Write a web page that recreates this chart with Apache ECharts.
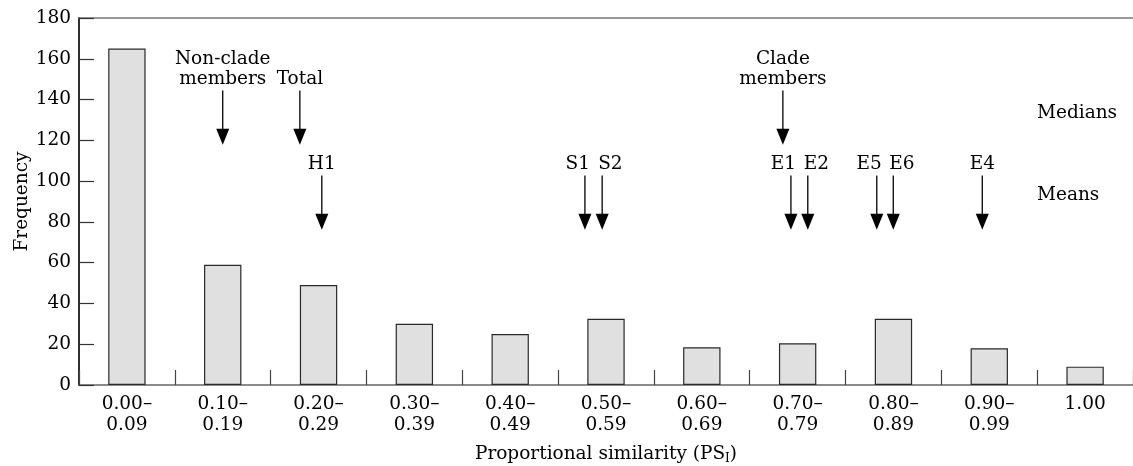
<!DOCTYPE html>
<html>
<head>
<meta charset="utf-8">
<script src="https://cdn.jsdelivr.net/npm/echarts@6/dist/echarts.min.js"></script>
<style>
  html, body { margin: 0; padding: 0; background: #fff; }
  #chart { width: 1133px; height: 466px; }
</style>
</head>
<body>
<div id="chart"></div>
<script>
// Categories of proportional similarity (PS_I)
var categories = ['0.00–\n0.09', '0.10–\n0.19', '0.20–\n0.29', '0.30–\n0.39', '0.40–\n0.49',
                  '0.50–\n0.59', '0.60–\n0.69', '0.70–\n0.79', '0.80–\n0.89', '0.90–\n0.99', '1.00'];
// Frequencies
var frequency = [165, 59, 49, 30, 25, 32.5, 18.5, 20.5, 32.5, 18, 9];
var yTicks = [0, 20, 40, 60, 80, 100, 120, 140, 160, 180];

// Medians (PS_I position on a continuous scale where each bin spans 0.1)
var medianNames = ['Non-clade\nmembers', 'Total', 'Clade\nmembers'];
var medianValues = [0.150, 0.2305, 0.7346];
// Means
var meanNames = ['H1', 'S1', 'S2', 'E1', 'E2', 'E5', 'E6', 'E4'];
var meanValues = [0.2534, 0.528, 0.546, 0.743, 0.7606, 0.8326, 0.8498, 0.9427];

// vertical extent of arrows (in frequency units)
var medianArrowTop = 144.5, medianArrowTip = 117.8;
var meanArrowTop = 102.8, meanArrowTip = 76.1;

var FONT = '"DejaVu Serif", "Liberation Serif", serif';
var FS = 18.5;

var arrowData = [];
medianValues.forEach(function (v, i) {
  arrowData.push([v, medianArrowTop, medianArrowTip, medianNames[i], 0]);
});
meanValues.forEach(function (v, i) {
  // side: -1 left member of a close pair, +1 right member, 0 alone
  var side = 0;
  if (i > 0 && Math.abs(meanValues[i - 1] - v) < 0.03) side = 1;
  if (i < meanValues.length - 1 && Math.abs(meanValues[i + 1] - v) < 0.03) side = -1;
  arrowData.push([v, meanArrowTop, meanArrowTip, meanNames[i], side]);
});

var chart = echarts.init(document.getElementById('chart'), null, { renderer: 'canvas' });
chart.setOption({
  backgroundColor: '#fff',
  animation: false,
  textStyle: { fontFamily: FONT },
  grid: { left: 79, right: 0, top: 18, bottom: 81, containLabel: false, outerBoundsMode: 'none' },
  xAxis: [{
    type: 'category',
    data: categories,
    position: 'bottom',
    boundaryGap: true,
    axisLine: { onZero: false, lineStyle: { color: '#666', width: 1.5 } },
    axisTick: { show: true, inside: true, length: 15, alignWithLabel: false, lineStyle: { color: '#444', width: 1.2 } },
    axisLabel: { color: '#000', fontSize: FS, fontFamily: FONT, margin: 9, lineHeight: 21, interval: 0 },
    name: 'Proportional similarity (PS{sub|I})',
    nameLocation: 'middle',
    nameGap: 58,
    nameMoveOverlap: false,
    nameTextStyle: {
      color: '#000', fontSize: FS, fontFamily: FONT,
      rich: { sub: { fontSize: 12, fontFamily: FONT, color: '#000', verticalAlign: 'bottom', padding: [10, 0, 0, 0] } }
    }
  }, {
    type: 'value',
    position: 'top',
    min: 0, max: 1.1,
    axisLine: { show: true, onZero: false, lineStyle: { color: '#777', width: 1.5 } },
    axisTick: { show: false },
    axisLabel: { show: false },
    splitLine: { show: false }
  }],
  yAxis: [{
    type: 'value',
    min: 0, max: 180, interval: 20,
    axisLine: { show: true, onZero: false, lineStyle: { color: '#222', width: 1.5 } },
    axisTick: { show: true, inside: true, length: 15, lineStyle: { color: '#333', width: 1.2 } },
    axisLabel: { color: '#000', fontSize: FS, fontFamily: FONT, margin: 8 },
    splitLine: { show: false },
    name: 'Frequency',
    nameLocation: 'middle',
    nameRotate: 90,
    nameGap: 47,
    nameMoveOverlap: false,
    nameTextStyle: { color: '#000', fontSize: FS, fontFamily: FONT }
  }, {
    type: 'value',
    position: 'left',
    min: 0, max: 180,
    axisLine: { show: true, onZero: false, lineStyle: { color: '#222', width: 1.5 } },
    axisTick: { show: false },
    axisLabel: { show: false },
    splitLine: { show: false }
  }],
  graphic: [
    { type: 'text', left: 1037, top: 104, style: { text: 'Medians', fill: '#000', font: FS + 'px ' + FONT } },
    { type: 'text', left: 1037, top: 186, style: { text: 'Means', fill: '#000', font: FS + 'px ' + FONT } }
  ],
  series: [{
    type: 'bar',
    data: frequency,
    barWidth: '39%',
    itemStyle: { color: '#e0e0e0', borderColor: '#2a2a2a', borderWidth: 1.2 }
  }, {
    type: 'custom',
    xAxisIndex: 1,
    yAxisIndex: 0,
    data: arrowData,
    renderItem: function (params, api) {
      var x = api.value(0);
      var pTop = api.coord([x, api.value(1)]);
      var pTip = api.coord([x, api.value(2)]);
      var name = arrowData[params.dataIndex][3];
      var side = arrowData[params.dataIndex][4];
      var headH = 16, headW = 6.5;
      var align = 'center', tx = pTop[0];
      if (side === -1) { align = 'right'; tx = pTop[0] + 5; }
      if (side === 1) { align = 'left'; tx = pTop[0] - 4; }
      return {
        type: 'group',
        children: [{
          type: 'line',
          shape: { x1: pTop[0], y1: pTop[1], x2: pTip[0], y2: pTip[1] - headH + 1 },
          style: { stroke: '#000', lineWidth: 1.3 }
        }, {
          type: 'polygon',
          shape: { points: [[pTip[0], pTip[1]], [pTip[0] - headW, pTip[1] - headH], [pTip[0] + headW, pTip[1] - headH]] },
          style: { fill: '#000' }
        }, {
          type: 'text',
          style: {
            x: tx, y: pTop[1] - 1,
            text: name,
            fill: '#000',
            font: FS + 'px ' + FONT,
            align: align,
            verticalAlign: 'bottom',
            lineHeight: 20
          }
        }]
      };
    }
  }]
});
</script>
</body>
</html>
